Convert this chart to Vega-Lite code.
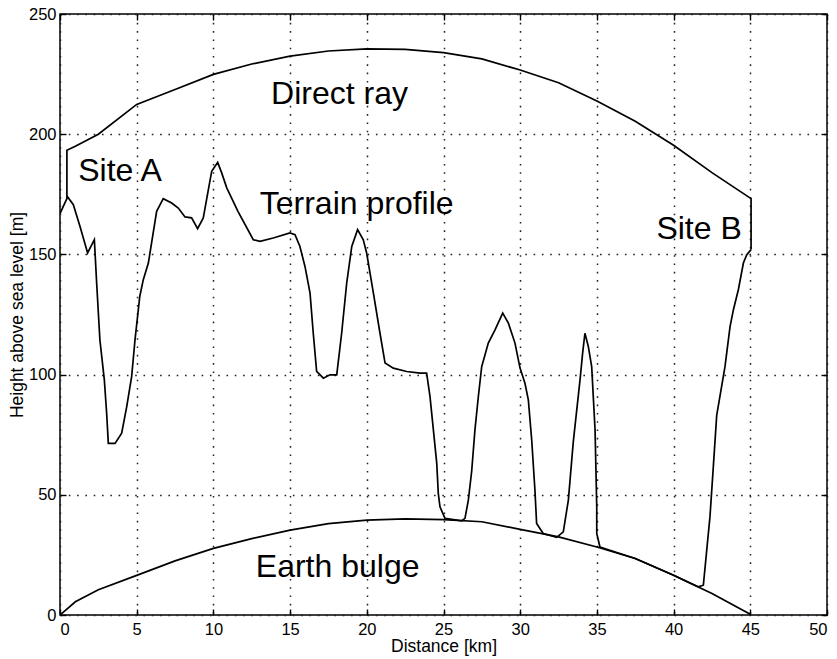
{
  "$schema": "https://vega.github.io/schema/vega-lite/v6.json",
  "autosize": "none",
  "width": 767,
  "height": 601,
  "padding": {"left": 60, "top": 14, "right": 10, "bottom": 44},
  "background": "white",
  "config": {
    "view": {"stroke": "black", "strokeWidth": 1.5},
    "font": "Liberation Sans",
    "axis": {
      "labelFont": "Liberation Sans",
      "titleFont": "Liberation Sans",
      "labelColor": "black",
      "titleColor": "black",
      "labelFontSize": 16.5,
      "titleFontSize": 17.5,
      "titleFontWeight": "normal",
      "domain": false,
      "tickColor": "black",
      "tickWidth": 1.4,
      "tickSize": -6,
      "grid": true,
      "gridColor": "#222222",
      "gridDash": [1.6, 6.7],
      "gridWidth": 1.5
    }
  },
  "layer": [
    {
      "data": {"values": [
        {"s": "terrain", "i": 1, "x": 0, "y": 167},
        {"s": "terrain", "i": 2, "x": 0.5, "y": 173.9},
        {"s": "terrain", "i": 3, "x": 0.87, "y": 170.7},
        {"s": "terrain", "i": 4, "x": 1.3, "y": 161.7},
        {"s": "terrain", "i": 5, "x": 1.8, "y": 150.6},
        {"s": "terrain", "i": 6, "x": 2.24, "y": 156.1},
        {"s": "terrain", "i": 7, "x": 2.39, "y": 138},
        {"s": "terrain", "i": 8, "x": 2.6, "y": 114.5},
        {"s": "terrain", "i": 9, "x": 2.89, "y": 97.8},
        {"s": "terrain", "i": 10, "x": 3.04, "y": 84},
        {"s": "terrain", "i": 11, "x": 3.15, "y": 71.4},
        {"s": "terrain", "i": 12, "x": 3.59, "y": 71.4},
        {"s": "terrain", "i": 13, "x": 4.02, "y": 75.6},
        {"s": "terrain", "i": 14, "x": 4.35, "y": 86.7},
        {"s": "terrain", "i": 15, "x": 4.67, "y": 99.2},
        {"s": "terrain", "i": 16, "x": 4.89, "y": 114.5},
        {"s": "terrain", "i": 17, "x": 5.2, "y": 132.5},
        {"s": "terrain", "i": 18, "x": 5.43, "y": 139.5},
        {"s": "terrain", "i": 19, "x": 5.76, "y": 146.4},
        {"s": "terrain", "i": 20, "x": 6.3, "y": 167.9},
        {"s": "terrain", "i": 21, "x": 6.73, "y": 173.2},
        {"s": "terrain", "i": 22, "x": 7.28, "y": 171.4},
        {"s": "terrain", "i": 23, "x": 7.71, "y": 169.3},
        {"s": "terrain", "i": 24, "x": 8.15, "y": 165.6},
        {"s": "terrain", "i": 25, "x": 8.58, "y": 165.2},
        {"s": "terrain", "i": 26, "x": 8.97, "y": 160.7},
        {"s": "terrain", "i": 27, "x": 9.34, "y": 165.2},
        {"s": "terrain", "i": 28, "x": 9.71, "y": 178.3},
        {"s": "terrain", "i": 29, "x": 9.89, "y": 184.6},
        {"s": "terrain", "i": 30, "x": 10.28, "y": 188.3},
        {"s": "terrain", "i": 31, "x": 10.54, "y": 183.9},
        {"s": "terrain", "i": 32, "x": 10.87, "y": 177.7},
        {"s": "terrain", "i": 33, "x": 11.6, "y": 167.9},
        {"s": "terrain", "i": 34, "x": 12.6, "y": 156.1},
        {"s": "terrain", "i": 35, "x": 13.04, "y": 155.4},
        {"s": "terrain", "i": 36, "x": 13.9, "y": 156.8},
        {"s": "terrain", "i": 37, "x": 14.99, "y": 158.9},
        {"s": "terrain", "i": 38, "x": 15.32, "y": 158.2},
        {"s": "terrain", "i": 39, "x": 15.64, "y": 153.3},
        {"s": "terrain", "i": 40, "x": 15.97, "y": 145},
        {"s": "terrain", "i": 41, "x": 16.3, "y": 133.9},
        {"s": "terrain", "i": 42, "x": 16.51, "y": 117.2},
        {"s": "terrain", "i": 43, "x": 16.73, "y": 101.3},
        {"s": "terrain", "i": 44, "x": 17.17, "y": 98.5},
        {"s": "terrain", "i": 45, "x": 17.6, "y": 99.9},
        {"s": "terrain", "i": 46, "x": 18.04, "y": 99.9},
        {"s": "terrain", "i": 47, "x": 18.36, "y": 117.2},
        {"s": "terrain", "i": 48, "x": 18.69, "y": 138.1},
        {"s": "terrain", "i": 49, "x": 19.02, "y": 153.3},
        {"s": "terrain", "i": 50, "x": 19.4, "y": 160.3},
        {"s": "terrain", "i": 51, "x": 19.77, "y": 156.1},
        {"s": "terrain", "i": 52, "x": 19.99, "y": 150.6},
        {"s": "terrain", "i": 53, "x": 20.43, "y": 133.9},
        {"s": "terrain", "i": 54, "x": 20.86, "y": 117.2},
        {"s": "terrain", "i": 55, "x": 21.19, "y": 104.8},
        {"s": "terrain", "i": 56, "x": 21.73, "y": 102.7},
        {"s": "terrain", "i": 57, "x": 22.6, "y": 101.3},
        {"s": "terrain", "i": 58, "x": 23.47, "y": 100.6},
        {"s": "terrain", "i": 59, "x": 23.9, "y": 100.6},
        {"s": "terrain", "i": 60, "x": 24.12, "y": 90.8},
        {"s": "terrain", "i": 61, "x": 24.34, "y": 77},
        {"s": "terrain", "i": 62, "x": 24.56, "y": 63.1},
        {"s": "terrain", "i": 63, "x": 24.66, "y": 50.6},
        {"s": "terrain", "i": 64, "x": 24.77, "y": 45},
        {"s": "terrain", "i": 65, "x": 25.1, "y": 40.2},
        {"s": "terrain", "i": 66, "x": 26.19, "y": 39.2},
        {"s": "terrain", "i": 67, "x": 26.4, "y": 40.2},
        {"s": "terrain", "i": 68, "x": 26.62, "y": 47.8},
        {"s": "terrain", "i": 69, "x": 26.84, "y": 60},
        {"s": "terrain", "i": 70, "x": 27.05, "y": 77},
        {"s": "terrain", "i": 71, "x": 27.27, "y": 90.8},
        {"s": "terrain", "i": 72, "x": 27.49, "y": 103.3},
        {"s": "terrain", "i": 73, "x": 27.92, "y": 113.1},
        {"s": "terrain", "i": 74, "x": 28.36, "y": 118.6},
        {"s": "terrain", "i": 75, "x": 28.86, "y": 125.6},
        {"s": "terrain", "i": 76, "x": 29.23, "y": 121.4},
        {"s": "terrain", "i": 77, "x": 29.66, "y": 113.1},
        {"s": "terrain", "i": 78, "x": 29.99, "y": 102.7},
        {"s": "terrain", "i": 79, "x": 30.31, "y": 96.4},
        {"s": "terrain", "i": 80, "x": 30.53, "y": 89.5},
        {"s": "terrain", "i": 81, "x": 30.75, "y": 72.8},
        {"s": "terrain", "i": 82, "x": 30.96, "y": 52},
        {"s": "terrain", "i": 83, "x": 31.07, "y": 38.1},
        {"s": "terrain", "i": 84, "x": 31.5, "y": 33.9},
        {"s": "terrain", "i": 85, "x": 32.38, "y": 32.3},
        {"s": "terrain", "i": 86, "x": 32.81, "y": 34.6},
        {"s": "terrain", "i": 87, "x": 33.14, "y": 47.8},
        {"s": "terrain", "i": 88, "x": 33.46, "y": 72},
        {"s": "terrain", "i": 89, "x": 33.9, "y": 97.8},
        {"s": "terrain", "i": 90, "x": 34.07, "y": 108.9},
        {"s": "terrain", "i": 91, "x": 34.22, "y": 117.2},
        {"s": "terrain", "i": 92, "x": 34.44, "y": 111.7},
        {"s": "terrain", "i": 93, "x": 34.66, "y": 103.3},
        {"s": "terrain", "i": 94, "x": 34.88, "y": 77},
        {"s": "terrain", "i": 95, "x": 34.99, "y": 45},
        {"s": "terrain", "i": 96, "x": 34.99, "y": 33.9},
        {"s": "terrain", "i": 97, "x": 35.2, "y": 28.3},
        {"s": "terrain", "i": 98, "x": 37.5, "y": 23.5},
        {"s": "terrain", "i": 99, "x": 40, "y": 16.5},
        {"s": "terrain", "i": 100, "x": 41.6, "y": 11.7},
        {"s": "terrain", "i": 101, "x": 41.94, "y": 12.4},
        {"s": "terrain", "i": 102, "x": 42.16, "y": 27},
        {"s": "terrain", "i": 103, "x": 42.37, "y": 40.8},
        {"s": "terrain", "i": 104, "x": 42.59, "y": 61.7},
        {"s": "terrain", "i": 105, "x": 42.81, "y": 83},
        {"s": "terrain", "i": 106, "x": 43.35, "y": 103.3},
        {"s": "terrain", "i": 107, "x": 43.68, "y": 120},
        {"s": "terrain", "i": 108, "x": 43.9, "y": 127},
        {"s": "terrain", "i": 109, "x": 44.22, "y": 135.3},
        {"s": "terrain", "i": 110, "x": 44.55, "y": 146.4},
        {"s": "terrain", "i": 111, "x": 44.77, "y": 149.9},
        {"s": "terrain", "i": 112, "x": 45.05, "y": 152},
        {"s": "ray", "i": 1, "x": 0.45, "y": 173.5},
        {"s": "ray", "i": 2, "x": 0.45, "y": 193.3},
        {"s": "ray", "i": 3, "x": 1, "y": 195},
        {"s": "ray", "i": 4, "x": 2.5, "y": 200},
        {"s": "ray", "i": 5, "x": 5, "y": 212.4},
        {"s": "ray", "i": 6, "x": 7.5, "y": 218.6},
        {"s": "ray", "i": 7, "x": 10, "y": 224.9},
        {"s": "ray", "i": 8, "x": 12.5, "y": 229.2},
        {"s": "ray", "i": 9, "x": 15, "y": 232.5},
        {"s": "ray", "i": 10, "x": 17.5, "y": 234.6},
        {"s": "ray", "i": 11, "x": 20, "y": 235.5},
        {"s": "ray", "i": 12, "x": 22.5, "y": 235.3},
        {"s": "ray", "i": 13, "x": 25, "y": 233.9},
        {"s": "ray", "i": 14, "x": 27.5, "y": 231.3},
        {"s": "ray", "i": 15, "x": 30, "y": 226.7},
        {"s": "ray", "i": 16, "x": 32.5, "y": 221.4},
        {"s": "ray", "i": 17, "x": 35, "y": 213.8},
        {"s": "ray", "i": 18, "x": 37.5, "y": 205.4},
        {"s": "ray", "i": 19, "x": 40, "y": 195.4},
        {"s": "ray", "i": 20, "x": 42.5, "y": 184},
        {"s": "ray", "i": 21, "x": 45.05, "y": 173.2},
        {"s": "ray", "i": 22, "x": 45.05, "y": 152},
        {"s": "bulge", "i": 1, "x": 0, "y": 0},
        {"s": "bulge", "i": 2, "x": 1, "y": 5.5},
        {"s": "bulge", "i": 3, "x": 2.5, "y": 10.5},
        {"s": "bulge", "i": 4, "x": 5, "y": 16.5},
        {"s": "bulge", "i": 5, "x": 7.5, "y": 22.5},
        {"s": "bulge", "i": 6, "x": 10, "y": 27.7},
        {"s": "bulge", "i": 7, "x": 12.5, "y": 31.8},
        {"s": "bulge", "i": 8, "x": 15, "y": 35.3},
        {"s": "bulge", "i": 9, "x": 17.5, "y": 38},
        {"s": "bulge", "i": 10, "x": 20, "y": 39.5},
        {"s": "bulge", "i": 11, "x": 22.5, "y": 40},
        {"s": "bulge", "i": 12, "x": 25, "y": 39.7},
        {"s": "bulge", "i": 13, "x": 27.5, "y": 38.8},
        {"s": "bulge", "i": 14, "x": 30, "y": 35.6},
        {"s": "bulge", "i": 15, "x": 32.5, "y": 32.5},
        {"s": "bulge", "i": 16, "x": 35, "y": 28.3},
        {"s": "bulge", "i": 17, "x": 37.5, "y": 23.5},
        {"s": "bulge", "i": 18, "x": 40, "y": 16.5},
        {"s": "bulge", "i": 19, "x": 42.5, "y": 8.9},
        {"s": "bulge", "i": 20, "x": 45, "y": 0.3}
      ]},
      "mark": {"type": "line", "color": "black", "strokeWidth": 1.7, "clip": true},
      "encoding": {
        "x": {"field": "x", "type": "quantitative", "scale": {"domain": [0, 50], "nice": false},
              "axis": {"title": "Distance [km]", "values": [0,5,10,15,20,25,30,35,40,45,50], "labelPadding": 12, "titlePadding": 0, "orient": "bottom"}},
        "y": {"field": "y", "type": "quantitative", "scale": {"domain": [0, 250], "nice": false},
              "axis": {"title": "Height above sea level [m]", "values": [0,50,100,150,200,250], "labelPadding": 10, "titlePadding": 2, "orient": "left"}},
        "detail": {"field": "s"},
        "order": {"field": "i"}
      }
    },
    {
      "data": {"values": [
        {"label": "Direct ray", "x": 18.22, "y": 212.4},
        {"label": "Site A", "x": 3.91, "y": 180.4},
        {"label": "Terrain profile", "x": 19.34, "y": 166.8},
        {"label": "Site B", "x": 41.66, "y": 156.4},
        {"label": "Earth bulge", "x": 18.1, "y": 15.8}
      ]},
      "mark": {"type": "text", "font": "Liberation Sans", "fontSize": 32, "color": "black", "align": "center", "baseline": "alphabetic"},
      "encoding": {
        "x": {"field": "x", "type": "quantitative",
              "axis": {"orient": "top", "labels": false, "title": null, "grid": false, "values": [0,5,10,15,20,25,30,35,40,45,50]}},
        "y": {"field": "y", "type": "quantitative",
              "axis": {"orient": "right", "labels": false, "title": null, "grid": false, "values": [0,50,100,150,200,250]}},
        "text": {"field": "label"}
      }
    }
  ],
  "resolve": {"axis": {"x": "independent", "y": "independent"}}
}
